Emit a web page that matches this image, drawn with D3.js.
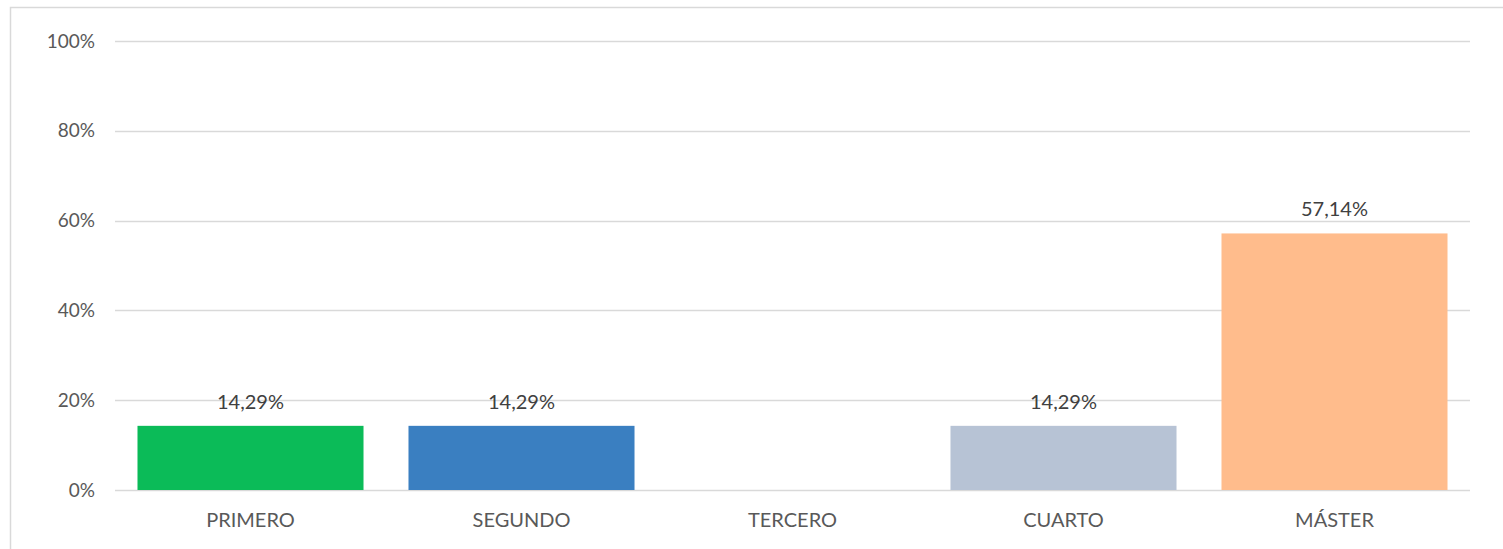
<!DOCTYPE html>
<html>
<head>
<meta charset="utf-8">
<script src="https://cdn.jsdelivr.net/npm/d3@7"></script>
<style>
  body { margin: 0; background: #fff; }
  svg { display: block; font-family: Lato, "Open Sans", sans-serif; }
</style>
</head>
<body>
<svg></svg>
<script>
// Canvas size
const width = 1503, height = 549;

// Data
const categories = ["PRIMERO", "SEGUNDO", "TERCERO", "CUARTO", "MÁSTER"];
const values = [14.29, 14.29, 0, 14.29, 57.14];
const colors = ["#0BBB58", "#3A7FC1", "#A5A5A5", "#B7C3D5", "#FFBC8C"];
const yTicks = [0, 20, 40, 60, 80, 100];

const svg = d3.select("svg").attr("width", width).attr("height", height);

// Outer chart border
svg.append("rect")
    .attr("x", 10.5).attr("y", 7.5)
    .attr("width", width + 20).attr("height", height + 20)
    .attr("fill", "none")
    .attr("stroke", "#D9D9D9")
    .attr("stroke-width", 1.5);

const margin = { left: 115, right: 33, top: 41, bottom: 59 };

const x = d3.scaleBand()
    .domain(categories)
    .range([margin.left, width - margin.right])
    .paddingInner(0.166)
    .paddingOuter(0.083);

const y = d3.scaleLinear()
    .domain([0, 100])
    .range([height - margin.bottom, margin.top]);

// Gridlines
svg.append("g")
    .selectAll("line")
    .data(yTicks)
    .enter().append("line")
    .attr("x1", margin.left)
    .attr("x2", width - margin.right)
    .attr("y1", d => Math.round(y(d)) + 0.5)
    .attr("y2", d => Math.round(y(d)) + 0.5)
    .attr("stroke", "#D9D9D9")
    .attr("stroke-width", 1.5);

// Y tick labels
svg.append("g")
    .selectAll("text")
    .data(yTicks)
    .enter().append("text")
    .attr("x", 95)
    .attr("y", d => y(d))
    .attr("dy", "0.35em")
    .attr("text-anchor", "end")
    .attr("font-size", "19px")
    .attr("fill", "#595959")
    .text(d => d + "%");

// Bars
svg.append("g")
    .selectAll("rect")
    .data(values)
    .enter().append("rect")
    .attr("x", (d, i) => x(categories[i]))
    .attr("width", x.bandwidth())
    .attr("y", d => y(d))
    .attr("height", d => y(0) - y(d))
    .attr("fill", (d, i) => colors[i]);

// Value labels (skip zero)
svg.append("g")
    .selectAll("text")
    .data(values.map((v, i) => ({ v, c: categories[i] })).filter(d => d.v > 0))
    .enter().append("text")
    .attr("x", d => x(d.c) + x.bandwidth() / 2)
    .attr("y", d => y(d.v) - 17)
    .attr("text-anchor", "middle")
    .attr("font-size", "20px")
    .attr("fill", "#404040")
    .text(d => d.v.toFixed(2).replace(".", ",") + "%");

// Category labels
svg.append("g")
    .selectAll("text")
    .data(categories)
    .enter().append("text")
    .attr("x", d => x(d) + x.bandwidth() / 2)
    .attr("y", 527)
    .attr("text-anchor", "middle")
    .attr("font-size", "20px")
    .attr("fill", "#595959")
    .text(d => d);
</script>
</body>
</html>
